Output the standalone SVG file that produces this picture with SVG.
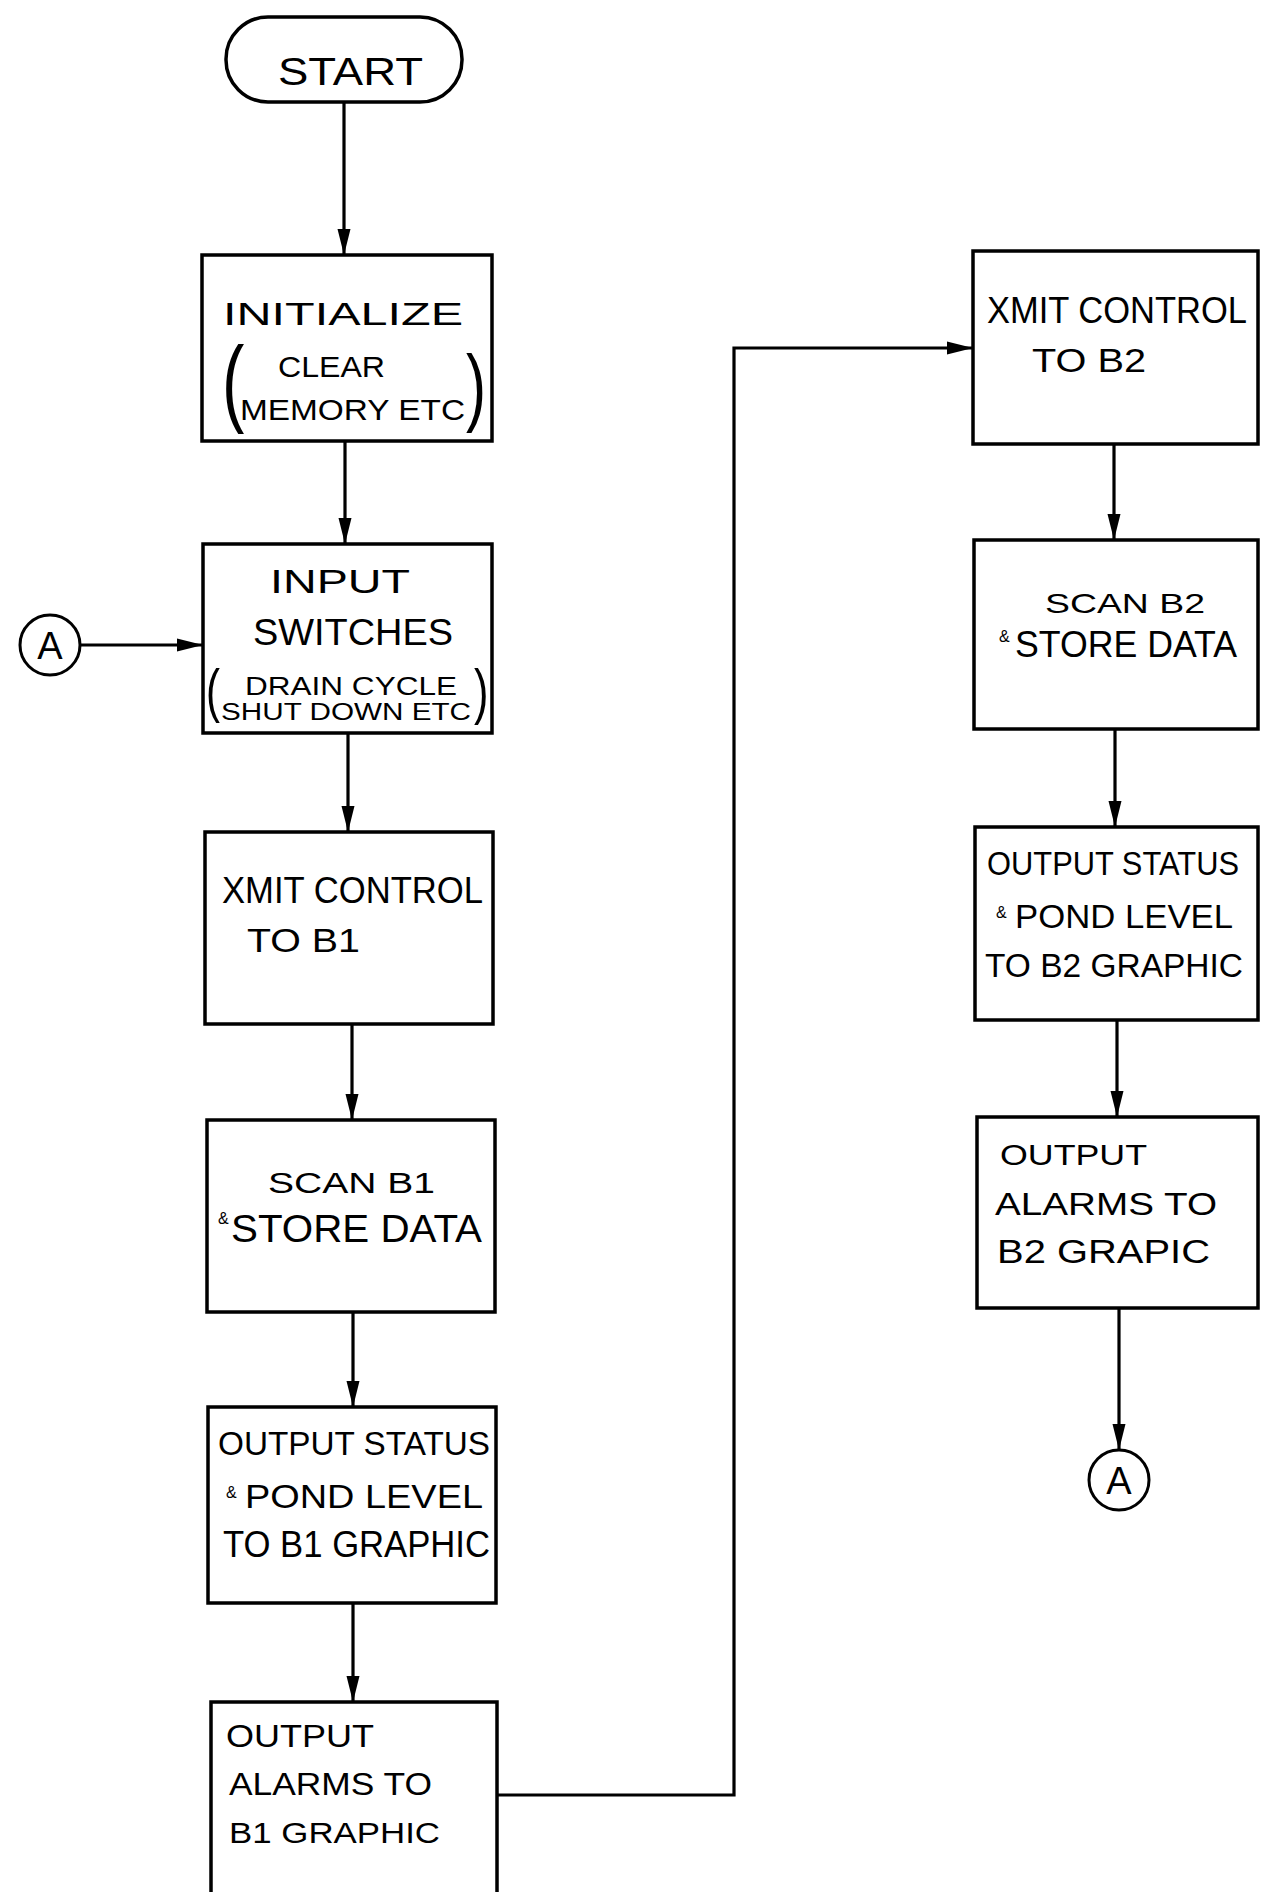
<svg xmlns="http://www.w3.org/2000/svg" width="1261" height="1892" viewBox="0 0 1261 1892">
<style>
.box{fill:#fff;stroke:#000;stroke-width:3.5}
.conn{fill:none;stroke:#000;stroke-width:3.2}
.circ{fill:#fff;stroke:#000;stroke-width:3}
text{font-family:"Liberation Sans",Arial,sans-serif;fill:#000}
.amp{font-size:16px}
</style>
<defs>
<marker id="arr" markerUnits="userSpaceOnUse" markerWidth="26" markerHeight="16" refX="26" refY="8" orient="auto">
<path d="M0,1.5 L26,8 L0,14.5 z" fill="#000"/>
</marker>
</defs>
<rect x="0" y="0" width="1261" height="1892" fill="#fff"/>
<g id="connectors">
<path class="conn" d="M344,102 V255" marker-end="url(#arr)"/>
<path class="conn" d="M345,441 V544" marker-end="url(#arr)"/>
<path class="conn" d="M348,733 V832" marker-end="url(#arr)"/>
<path class="conn" d="M352,1024 V1120" marker-end="url(#arr)"/>
<path class="conn" d="M353,1312 V1407" marker-end="url(#arr)"/>
<path class="conn" d="M353,1603 V1702" marker-end="url(#arr)"/>
<path class="conn" d="M497,1795 H734 V348 H973" marker-end="url(#arr)"/>
<path class="conn" d="M1114,444 V540" marker-end="url(#arr)"/>
<path class="conn" d="M1115,729 V827" marker-end="url(#arr)"/>
<path class="conn" d="M1117,1020 V1117" marker-end="url(#arr)"/>
<path class="conn" d="M1119,1308 V1450" marker-end="url(#arr)"/>
<path class="conn" d="M80,645 H203" marker-end="url(#arr)"/>
</g>
<g id="start">
<rect class="box" x="226" y="17" width="236" height="85" rx="42"/>
<text x="278" y="85" font-size="38" textLength="145" lengthAdjust="spacingAndGlyphs">START</text>
</g>
<g id="initialize">
<rect class="box" x="202" y="255" width="290" height="186"/>
<text x="223" y="325" font-size="32" textLength="240" lengthAdjust="spacingAndGlyphs">INITIALIZE</text>
<text x="222" y="414" font-size="96" transform="translate(222 0) scale(0.7 1) translate(-222 0)">(</text>
<text x="278" y="377" font-size="30" textLength="107" lengthAdjust="spacingAndGlyphs">CLEAR</text>
<text x="240" y="420" font-size="30" textLength="225" lengthAdjust="spacingAndGlyphs">MEMORY ETC</text>
<text x="466" y="415" font-size="86" transform="translate(466 0) scale(0.7 1) translate(-466 0)">)</text>
</g>
<g id="input">
<rect class="box" x="203" y="544" width="289" height="189"/>
<text x="270" y="593" font-size="34" textLength="140" lengthAdjust="spacingAndGlyphs">INPUT</text>
<text x="253" y="645" font-size="36" textLength="200" lengthAdjust="spacingAndGlyphs">SWITCHES</text>
<text x="206" y="711" font-size="60" transform="translate(206 0) scale(0.7 1) translate(-206 0)">(</text>
<text x="245" y="695" font-size="25" textLength="212" lengthAdjust="spacingAndGlyphs">DRAIN CYCLE</text>
<text x="221" y="720" font-size="23" textLength="250" lengthAdjust="spacingAndGlyphs">SHUT DOWN ETC</text>
<text x="474" y="712" font-size="62" transform="translate(474 0) scale(0.7 1) translate(-474 0)">)</text>
</g>
<g id="xmit-b1">
<rect class="box" x="205" y="832" width="288" height="192"/>
<text x="222" y="903" font-size="36" textLength="261" lengthAdjust="spacingAndGlyphs">XMIT CONTROL</text>
<text x="247" y="952" font-size="34" textLength="113" lengthAdjust="spacingAndGlyphs">TO B1</text>
</g>
<g id="scan-b1">
<rect class="box" x="207" y="1120" width="288" height="192"/>
<text x="268" y="1193" font-size="30" textLength="167" lengthAdjust="spacingAndGlyphs">SCAN B1</text>
<text x="218" y="1224" class="amp">&amp;</text>
<text x="231" y="1242" font-size="38" textLength="251" lengthAdjust="spacingAndGlyphs">STORE DATA</text>
</g>
<g id="status-b1">
<rect class="box" x="208" y="1407" width="288" height="196"/>
<text x="218" y="1455" font-size="34" textLength="272" lengthAdjust="spacingAndGlyphs">OUTPUT STATUS</text>
<text x="226" y="1498" class="amp">&amp;</text>
<text x="245" y="1508" font-size="34" textLength="238" lengthAdjust="spacingAndGlyphs">POND LEVEL</text>
<text x="223" y="1557" font-size="36" textLength="267" lengthAdjust="spacingAndGlyphs">TO B1 GRAPHIC</text>
</g>
<g id="alarms-b1">
<rect class="box" x="211" y="1702" width="286" height="200"/>
<text x="226" y="1747" font-size="31" textLength="148" lengthAdjust="spacingAndGlyphs">OUTPUT</text>
<text x="229" y="1795" font-size="32" textLength="203" lengthAdjust="spacingAndGlyphs">ALARMS TO</text>
<text x="229" y="1843" font-size="30" textLength="211" lengthAdjust="spacingAndGlyphs">B1 GRAPHIC</text>
</g>
<g id="xmit-b2">
<rect class="box" x="973" y="251" width="285" height="193"/>
<text x="987" y="323" font-size="36" textLength="260" lengthAdjust="spacingAndGlyphs">XMIT CONTROL</text>
<text x="1032" y="372" font-size="34" textLength="114" lengthAdjust="spacingAndGlyphs">TO B2</text>
</g>
<g id="scan-b2">
<rect class="box" x="974" y="540" width="284" height="189"/>
<text x="1045" y="613" font-size="28" textLength="160" lengthAdjust="spacingAndGlyphs">SCAN B2</text>
<text x="999" y="642" class="amp">&amp;</text>
<text x="1015" y="657" font-size="36" textLength="222" lengthAdjust="spacingAndGlyphs">STORE DATA</text>
</g>
<g id="status-b2">
<rect class="box" x="975" y="827" width="283" height="193"/>
<text x="987" y="875" font-size="33" textLength="252" lengthAdjust="spacingAndGlyphs">OUTPUT STATUS</text>
<text x="996" y="918" class="amp">&amp;</text>
<text x="1015" y="928" font-size="34" textLength="218" lengthAdjust="spacingAndGlyphs">POND LEVEL</text>
<text x="985" y="977" font-size="34" textLength="258" lengthAdjust="spacingAndGlyphs">TO B2 GRAPHIC</text>
</g>
<g id="alarms-b2">
<rect class="box" x="977" y="1117" width="281" height="191"/>
<text x="1000" y="1165" font-size="30" textLength="147" lengthAdjust="spacingAndGlyphs">OUTPUT</text>
<text x="995" y="1215" font-size="31" textLength="222" lengthAdjust="spacingAndGlyphs">ALARMS TO</text>
<text x="997" y="1263" font-size="34" textLength="213" lengthAdjust="spacingAndGlyphs">B2 GRAPIC</text>
</g>
<g id="connector-a-left">
<circle class="circ" cx="50" cy="645" r="30"/>
<text x="50" y="659" font-size="38" text-anchor="middle">A</text>
</g>
<g id="connector-a-right">
<circle class="circ" cx="1119" cy="1480" r="30"/>
<text x="1119" y="1494" font-size="38" text-anchor="middle">A</text>
</g>
</svg>
